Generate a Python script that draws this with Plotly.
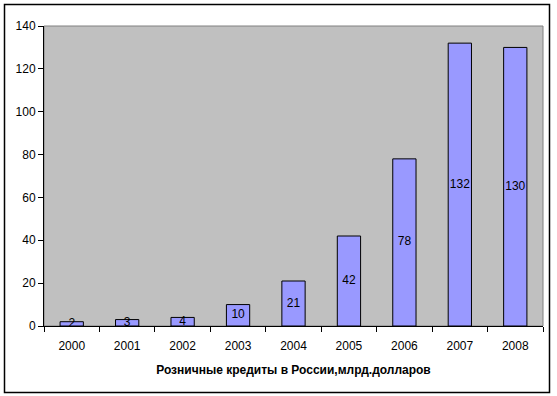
import plotly.graph_objects as go

years = ["2000", "2001", "2002", "2003", "2004", "2005", "2006", "2007", "2008"]
values = [2, 3, 4, 10, 21, 42, 78, 132, 130]
y_ticks = [0, 20, 40, 60, 80, 100, 120, 140]
x_title = "Розничные кредиты в России,млрд.долларов"

font = "Liberation Sans, Arial, sans-serif"

fig = go.Figure()
fig.add_trace(go.Bar(
    x=years, y=values,
    marker=dict(color="#9999FF", line=dict(color="black", width=1)),
    width=0.42, hoverinfo="skip",
))
fig.add_trace(go.Scatter(
    x=years, y=[v / 2 for v in values], text=[str(v) for v in values],
    mode="text", textfont=dict(family=font, size=12, color="black"),
    textposition="middle center", hoverinfo="skip",
))

W, H = 557, 396
ml, mr, mt, mb = 44, 14, 26, 70
pw, ph = W - ml - mr, H - mt - mb

def px(x):
    return (x - ml) / pw

def py(y):
    return (H - mb - y) / ph

fig.update_layout(
    width=W, height=H,
    margin=dict(l=ml, r=mr, t=mt, b=mb),
    paper_bgcolor="white", plot_bgcolor="#C0C0C0",
    showlegend=False,
    font=dict(family=font, size=12, color="black"),
    xaxis=dict(
        type="category", showgrid=False, showline=True, linecolor="black", linewidth=1,
        ticks="outside", tickson="boundaries", ticklen=5, tickcolor="black",
        tickfont=dict(size=12), zeroline=False, ticklabelstandoff=9,
        title=dict(text="<b>" + x_title + "</b>", font=dict(size=12), standoff=13),
    ),
    yaxis=dict(
        range=[0, 140], tickvals=y_ticks, showgrid=False, showline=True,
        linecolor="black", linewidth=1, ticks="outside", ticklen=5, tickcolor="black",
        tickfont=dict(size=12), zeroline=False,
    ),
    shapes=[
        dict(type="rect", xref="paper", yref="paper", x0=0, x1=1, y0=0, y1=1,
             line=dict(color="#808080", width=1), layer="below"),
        dict(type="rect", xref="paper", yref="paper",
             x0=px(4.5), x1=px(549.5), y0=py(392.5), y1=py(4.5),
             line=dict(color="black", width=1.5), layer="above"),
    ],
)

fig.write_html("out.html", post_script="document.body.style.margin='0';",
               config={"displayModeBar": False})
